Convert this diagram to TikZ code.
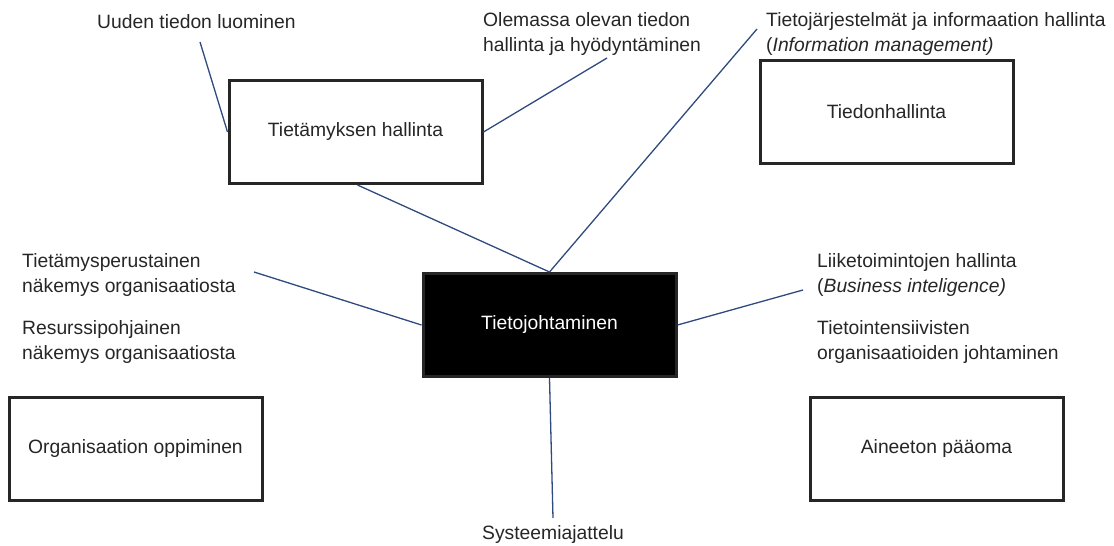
\documentclass[tikz,border=0pt]{standalone}
\usepackage{fontspec}
\setmainfont{Liberation Sans}
\definecolor{ink}{HTML}{262626}
\definecolor{link}{HTML}{2F4A7F}
\begin{document}
\begin{tikzpicture}[x=1pt,y=-1pt,
  every node/.style={font=\fontsize{19.3}{25}\selectfont, text=ink},
  topic/.style={draw=ink, line width=3pt, fill=white, minimum width=253pt, minimum height=103pt, inner sep=0pt},
  core/.style={topic, fill=black, text=white},
  note/.style={anchor=west, align=left, inner sep=0pt},
  link/.style={draw=link, line width=1.3pt}
]
\useasboundingbox (0,0) rectangle (1114,546);

% boxes
\node[topic] (km)   at (355.5,132) {Tietämyksen hallinta};
\node[topic] (ih)   at (886.5,112) {Tiedonhallinta};
\node[core]  (tj)   at (549.5,325) {\raisebox{-2pt}{Tietojohtaminen}};
\node[topic] (ol)   at (135.5,449) {Organisaation oppiminen};
\node[topic] (ip)   at (936.5,449) {Aineeton pääoma};

% free labels
\node[note] (new)  at (97,22)  {Uuden tiedon luominen};
\node[note] (old)  at (483,34) {Olemassa olevan tiedon\\hallinta ja hyödyntäminen};
\node[note] (sys)  at (766,34) {Tietojärjestelmät ja informaation hallinta\\(\textit{Information management)}};
\node[note] (kbv)  at (22,275) {Tietämysperustainen\\näkemys organisaatiosta};
\node[note] (rbv)  at (22,342) {Resurssipohjainen\\näkemys organisaatiosta};
\node[note] (bi)   at (817,275) {Liiketoimintojen hallinta\\(\textit{Business inteligence)}};
\node[note] (kio)  at (817,342) {Tietointensiivisten\\organisaatioiden johtaminen};
\node[anchor=center, inner sep=0pt] (st) at (553,535) {Systeemiajattelu};

% connector end points
\coordinate (newE) at (200,42);
\coordinate (oldE) at (607,58);
\coordinate (sysE) at (757,29);
\coordinate (kbvE) at (254,272);
\coordinate (biE)  at (803,290);
\coordinate (stE)  at (553,518);

% connectors
\draw[link] (newE) -- (km.west);
\draw[link] (km.east) -- (oldE);
\draw[link] ([xshift=2pt]km.south) -- (tj.north);
\draw[link] (tj.north) -- (sysE);
\draw[link] (kbvE) -- (tj.west);
\draw[link] (tj.east) -- (biE);
\draw[link] (tj.south) -- (stE);
\end{tikzpicture}
\end{document}
